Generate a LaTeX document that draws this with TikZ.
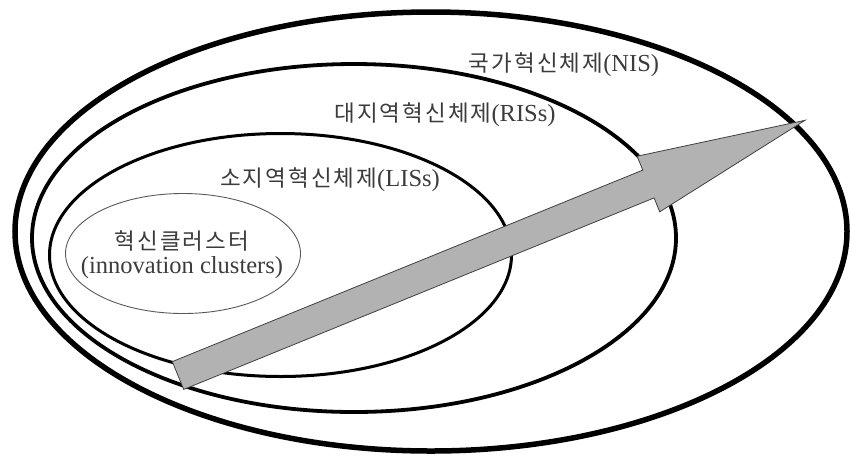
\documentclass[tikz,border=0pt]{standalone}
\usepackage{fontspec}
\setmainfont{Liberation Serif}
\newfontfamily\krfont{Noto Sans CJK KR}[LetterSpace=9]
\usepackage{xcolor}
\definecolor{labelgray}{RGB}{60,60,60}
\definecolor{arrowgray}{RGB}{178,178,178}
\newcommand{\kortext}[1]{{\krfont\fontsize{22.5}{26}\selectfont #1}}

\begin{document}
\begin{tikzpicture}[x=1pt,y=-1pt,
    label/.style={text=labelgray,inner sep=0pt,font=\fontsize{24.5}{24}\selectfont},
    system/.style={draw=black}]
        \useasboundingbox (0,0) rectangle (850,459);
        % national system
        \draw[system,line width=5.5pt] (431,231.5) ellipse [x radius=416, y radius=219.5];
        \node[label] (nis) at (564,65) {\kortext{국가혁신체제}(NIS)};
        % regional systems
        \draw[system,line width=3.8pt] (354,238) ellipse [x radius=322, y radius=174];
        \node[label] (ris) at (445,115) {\kortext{대지역혁신체제}(RISs)};
        % local systems
        \draw[system,line width=3pt] (280.5,255) ellipse [x radius=231, y radius=121.5];
        \node[label] (lis) at (330,180) {\kortext{소지역혁신체제}(LISs)};
        % clusters
        \draw[draw=black!65,line width=0.9pt] (183,253.5) ellipse [x radius=117.5, y radius=60];
        \node[label,align=center] (cluster) at (182,255) {\kortext{혁신클러스터}\\(innovation clusters)};
        % growth arrow
        \draw[fill=arrowgray,draw=black!75,line width=0.8pt,line join=miter]
            (172.3,361.6) -- (642.8,170.1) -- (637.1,156.2) -- (805,120.3)
            -- (659.7,211.8) -- (654.1,197.9) -- (183.7,389.4) -- cycle;
    \end{tikzpicture}
\end{document}
